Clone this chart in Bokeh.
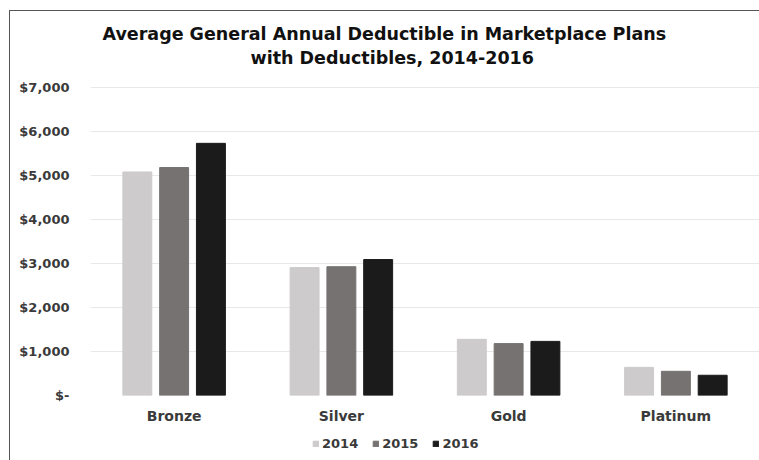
from bokeh.plotting import figure
from bokeh.layouts import column
from bokeh.models import ColumnDataSource, FactorRange, Range1d, Legend, LegendItem, Title, FixedTicker, CustomJSTickFormatter
from bokeh.transform import dodge
from bokeh.embed import file_html
from bokeh.resources import INLINE

categories = ["Bronze", "Silver", "Gold", "Platinum"]
years = ["2014", "2015", "2016"]
v2014 = [5081, 2907, 1277, 640]
v2015 = [5181, 2927, 1180, 550]
v2016 = [5731, 3090, 1230, 460]
colors = ["#cdcbcb", "#767271", "#1b1b1b"]
yticks = [0, 1000, 2000, 3000, 4000, 5000, 6000, 7000]
title_lines = ["Average General Annual Deductible in Marketplace Plans", "with Deductibles, 2014-2016"]

FONT = "DejaVu Sans"
src = ColumnDataSource(dict(cat=categories, y2014=v2014, y2015=v2015, y2016=v2016))

# y range keeps a little headroom above the top gridline ($7,000)
p = figure(x_range=FactorRange(*categories, range_padding=0), y_range=(0, 7341),
           width=749, height=421, output_backend="svg", toolbar_location=None,
           min_border_left=80, min_border_right=0, min_border_top=61, min_border_bottom=37)

renderers = []
offsets = [-0.22, 0.0, 0.22]
for yr, off, col in zip(years, offsets, colors):
    r = p.vbar(x=dodge("cat", off, range=p.x_range), top="y" + yr, width=0.173,
               source=src, fill_color=col, line_color=col)
    renderers.append(r)

p.title.visible = False
p.add_layout(Title(text=title_lines[1], align="left", offset=160, text_font=FONT,
                   text_font_size="17.5px", text_font_style="bold", text_color="#111111", standoff=10), "above")
p.add_layout(Title(text=title_lines[0], align="left", offset=12, text_font=FONT,
                   text_font_size="17.5px", text_font_style="bold", text_color="#111111", standoff=-7), "above")

p.yaxis.ticker = FixedTicker(ticks=yticks)
p.yaxis.formatter = CustomJSTickFormatter(code="""
if (tick == 0) { return '$-'; }
return '$' + tick.toLocaleString('en-US');
""")
for ax in (p.xaxis, p.yaxis):
    ax.axis_line_color = None
    ax.major_tick_line_color = None
    ax.minor_tick_line_color = None
    ax.major_label_text_font = FONT
    ax.major_label_text_font_style = "bold"
    ax.major_label_text_color = "#3a3a3a"
p.yaxis.major_label_text_font_size = "13px"
p.xaxis.major_label_text_font_size = "14px"
p.yaxis.major_label_standoff = 15
p.xaxis.major_label_standoff = 6

p.xgrid.grid_line_color = None
p.ygrid.ticker = FixedTicker(ticks=yticks)
p.ygrid.grid_line_color = "#e8e8e8"
p.ygrid.grid_line_width = 1
p.outline_line_color = None

# legend strip below the chart
p2 = figure(width=749, height=28, output_backend="svg", toolbar_location=None,
            x_range=Range1d(0, 1), y_range=Range1d(0, 1),
            min_border_left=0, min_border_right=0, min_border_top=0, min_border_bottom=0)
p2.axis.visible = False
p2.grid.visible = False
p2.outline_line_color = None
keys = [p2.vbar(x=[0.5], top=[0], width=0, fill_color=col, line_color=col) for col in colors]
legend = Legend(items=[LegendItem(label=yr, renderers=[k]) for yr, k in zip(years, keys)],
                orientation="horizontal", location=(222, 9),
                label_text_font=FONT, label_text_font_size="13px",
                label_text_font_style="bold", label_text_color="#3a3a3a",
                glyph_width=7, glyph_height=7, label_standoff=3, spacing=14,
                border_line_color=None, background_fill_alpha=0, padding=2, margin=0)
p2.add_layout(legend, "center")

layout = column(p, p2, spacing=0)
layout.styles = {"border-left": "1px solid #555555", "border-top": "1px solid #555555",
                 "margin-left": "9px", "margin-top": "10px"}

open("out.html", "w").write(file_html(layout, INLINE))
